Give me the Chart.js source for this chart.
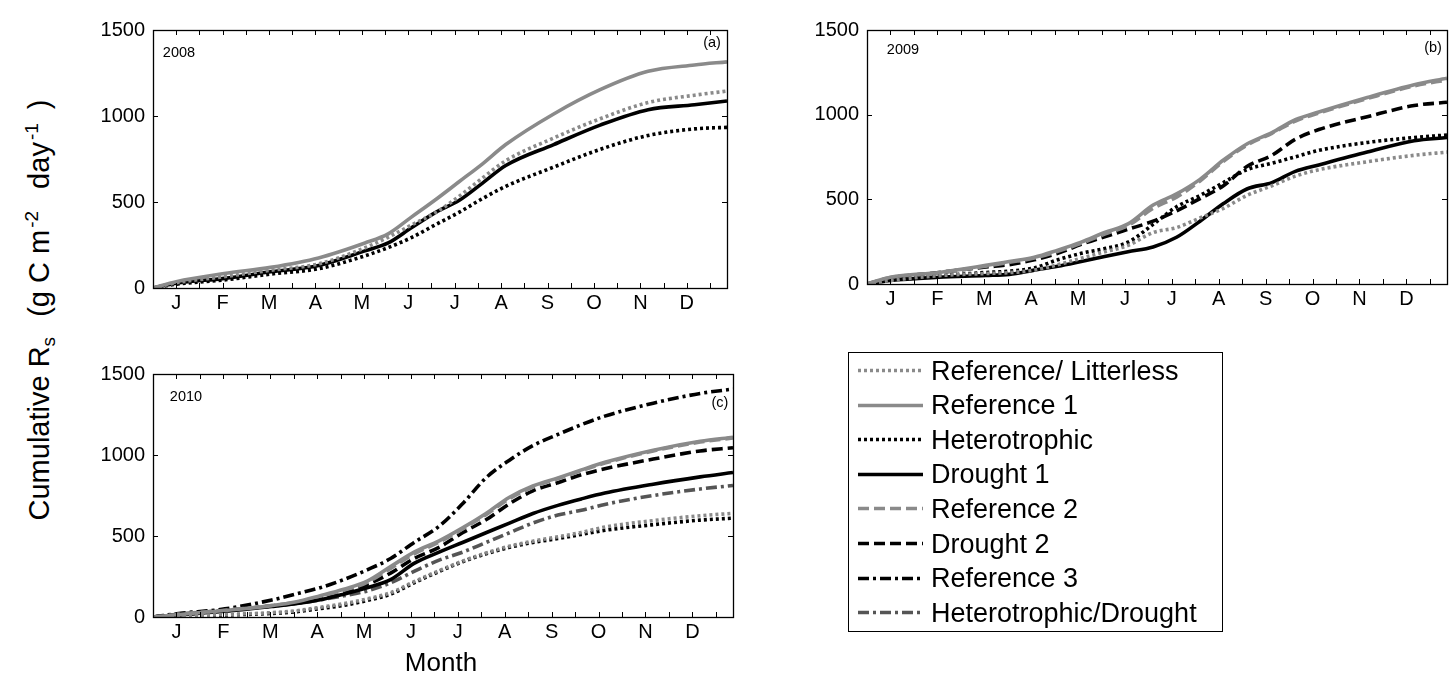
<!DOCTYPE html>
<html>
<head>
<meta charset="utf-8">
<script src="https://cdn.jsdelivr.net/npm/chart.js@4.4.1/dist/chart.umd.min.js"></script>
<style>
  html, body { margin:0; padding:0; background:#fff; }
  body { width:1453px; height:677px; position:relative; overflow:hidden; font-family:"Liberation Sans", Arial, sans-serif; }
  .panel { position:absolute; }
  .txt { position:absolute; font-family:"Liberation Sans", Arial, sans-serif; color:#000; white-space:nowrap; }
  .small { font-size:14.5px; transform:translate(-50%,-50%); }
  #ytitle { left:41px; top:310px; font-size:29px; transform:translate(-50%,-50%) rotate(-90deg); }
  #ytitle sub { font-size:19px; margin-right:12px; }
  #ytitle sup { font-size:19px; margin-left:2px; margin-right:14px; }
  #xtitle { left:441px; top:662px; font-size:26px; transform:translate(-50%,-50%); }
  #legend { position:absolute; left:848px; top:352px; width:373px; height:278px; border:1px solid #000; background:#fff; }
  .lrow { position:absolute; left:0; height:35px; width:100%; }
  .lrow svg { position:absolute; left:7px; top:0; }
  .lrow span { position:absolute; left:82px; top:50%; transform:translateY(-50%); font-size:27px; font-family:"Liberation Sans", Arial, sans-serif; }
</style>
</head>
<body>
<div class="panel" style="left:90px;top:10px;width:650px;height:310px;"><canvas id="ca" width="650" height="310"></canvas></div>
<div class="panel" style="left:804px;top:10px;width:649px;height:306px;"><canvas id="cb" width="649" height="306"></canvas></div>
<div class="panel" style="left:90px;top:354px;width:656px;height:295px;"><canvas id="cc" width="656" height="295"></canvas></div>

<div class="txt small" style="left:179px;top:52px;">2008</div>
<div class="txt small" style="left:712px;top:42px;">(a)</div>
<div class="txt small" style="left:903px;top:49px;">2009</div>
<div class="txt small" style="left:1433px;top:47px;">(b)</div>
<div class="txt small" style="left:186px;top:396px;">2010</div>
<div class="txt small" style="left:720px;top:402px;">(c)</div>

<div id="ytitle" class="txt">Cumulative R<sub>s</sub> (g C m<sup>-2</sup> day<sup>-1</sup>)</div>
<div id="xtitle" class="txt">Month</div>
<div id="legend"></div>

<script>
// ---- data ----
const monthLabels = ['J','F','M','A','M','J','J','A','S','O','N','D'];
const yTicks = [0, 500, 1000, 1500];

// 2008 (a)
const a_days          = [0, 15, 46, 76, 107, 137, 152, 167, 183, 198, 213, 228, 259, 289, 320, 350, 371];
const a_refLitterless = [0, 30, 66, 103, 140, 234, 295, 366, 440, 534, 640, 740, 872, 984, 1078, 1121, 1145];
const a_ref1          = [0, 37, 84, 120, 175, 262, 315, 412, 516, 619, 722, 834, 1012, 1153, 1260, 1297, 1315];
const a_het           = [0, 22, 47, 81, 112, 187, 235, 293, 370, 441, 520, 591, 703, 806, 887, 925, 934];
const a_drought1      = [0, 28, 56, 94, 131, 216, 262, 350, 441, 510, 610, 712, 834, 947, 1037, 1065, 1087];

// 2009 (b)
const b_days          = [0, 15, 46, 76, 91, 107, 122, 137, 152, 167, 183, 198, 213, 228, 243, 259, 274, 289, 320, 350, 371];
const b_refLitterless = [0, 21, 49, 62, 67, 82, 114, 152, 190, 228, 304, 333, 390, 447, 523, 580, 637, 675, 722, 760, 779];
const b_ref1          = [0, 40, 68, 110, 133, 158, 200, 247, 304, 355, 466, 532, 618, 732, 827, 894, 970, 1016, 1102, 1177, 1215];
const b_het           = [0, 27, 49, 68, 76, 95, 143, 181, 209, 247, 352, 456, 523, 599, 675, 713, 751, 789, 836, 865, 880];
const b_drought1      = [0, 21, 40, 50, 57, 82, 105, 133, 162, 190, 219, 276, 371, 475, 561, 599, 665, 703, 779, 846, 865];
const b_ref2          = [0, 38, 65, 105, 128, 153, 193, 240, 295, 345, 447, 513, 608, 725, 820, 890, 962, 1010, 1095, 1170, 1205];
const b_drought2      = [0, 34, 68, 100, 114, 143, 181, 234, 279, 323, 371, 432, 504, 580, 694, 760, 855, 912, 988, 1054, 1073];

// 2010 (c)
const c_days          = [0, 15, 46, 76, 91, 107, 122, 137, 152, 167, 183, 198, 213, 228, 243, 259, 274, 289, 320, 350, 371];
const c_refLitterless = [0, 5, 15, 27, 38, 60, 82, 112, 150, 218, 286, 345, 395, 437, 468, 495, 522, 555, 595, 625, 640];
const c_ref1          = [0, 14, 40, 70, 92, 131, 171, 221, 311, 400, 470, 550, 639, 739, 809, 859, 908, 955, 1030, 1085, 1110];
const c_het           = [0, 5, 12, 22, 32, 52, 72, 102, 141, 211, 281, 341, 390, 430, 460, 484, 510, 535, 570, 598, 610];
const c_drought1      = [0, 12, 35, 65, 82, 106, 141, 181, 231, 331, 400, 460, 520, 580, 639, 689, 729, 765, 820, 865, 892];
const c_ref2          = [0, 16, 42, 70, 90, 126, 165, 214, 300, 390, 462, 543, 632, 730, 802, 853, 903, 950, 1025, 1080, 1105];
const c_drought2      = [0, 15, 40, 68, 86, 118, 151, 201, 271, 361, 430, 520, 600, 699, 779, 829, 878, 915, 975, 1025, 1045];
const c_ref3          = [0, 20, 50, 105, 141, 181, 231, 291, 361, 460, 560, 699, 859, 968, 1058, 1127, 1187, 1240, 1320, 1380, 1407];
const c_hetDrought    = [0, 18, 42, 68, 82, 106, 131, 161, 211, 281, 351, 400, 460, 520, 580, 629, 659, 695, 750, 790, 812];

// ---- styles ----
const GRAY = '#8a8a8a', DARK = '#555555', BLACK = '#000000';
const styles = {
  'Reference/ Litterless': { color: GRAY,  dash: [3, 3] },
  'Reference 1':           { color: GRAY,  dash: [] },
  'Heterotrophic':         { color: BLACK, dash: [3, 3] },
  'Drought 1':             { color: BLACK, dash: [] },
  'Reference 2':           { color: GRAY,  dash: [11, 5] },
  'Drought 2':             { color: BLACK, dash: [11, 5] },
  'Reference 3':           { color: BLACK, dash: [11, 4, 3, 4] },
  'Heterotrophic/Drought': { color: DARK,  dash: [11, 4, 3, 4] }
};
const LW = 3.6;

function ds(name, days, vals) {
  const s = styles[name];
  return {
    label: name,
    data: days.map((d, i) => ({ x: d, y: vals[i] })),
    borderColor: s.color,
    borderDash: s.dash,
    borderWidth: LW,
    borderCapStyle: 'butt',
    pointRadius: 0,
    fill: false,
    cubicInterpolationMode: 'monotone'
  };
}

const frameTicks = {
  id: 'frameTicks',
  afterDatasetsDraw(chart) {
    const { ctx, chartArea: { left, right, top, bottom }, scales: { x, y } } = chart;
    ctx.save();
    ctx.strokeStyle = '#000';
    ctx.lineWidth = 1;
    ctx.setLineDash([]);
    ctx.beginPath();
    x.ticks.forEach(t => {
      const px = Math.round(x.getPixelForValue(t.value)) + 0.5;
      ctx.moveTo(px, bottom); ctx.lineTo(px, bottom - 5);
      ctx.moveTo(px, top); ctx.lineTo(px, top + 5);
    });
    y.ticks.forEach(t => {
      const py = Math.round(y.getPixelForValue(t.value)) + 0.5;
      ctx.moveTo(left, py); ctx.lineTo(left + 5, py);
      ctx.moveTo(right, py); ctx.lineTo(right - 5, py);
    });
    ctx.stroke();
    ctx.lineWidth = 1.3;
    ctx.strokeRect(Math.round(left) + 0.5, Math.round(top) + 0.5, Math.round(right - left), Math.round(bottom - top));
    ctx.restore();
  }
};

function makeChart(id, datasets, padRight) {
  return new Chart(document.getElementById(id), {
    type: 'line',
    data: { datasets },
    plugins: [frameTicks],
    options: {
      responsive: false,
      animation: false,
      devicePixelRatio: 1,
      layout: { padding: { top: 12, right: padRight, left: 0, bottom: 0 } },
      plugins: { legend: { display: false }, tooltip: { enabled: false } },
      scales: {
        x: {
          type: 'linear', min: 0, max: 371,
          grid: { display: false, drawTicks: false }, border: { display: false },
          afterFit: s => { s.height = 32; },
          ticks: {
            stepSize: 15, includeBounds: false, autoSkip: false, maxRotation: 0, padding: 3,
            color: '#000', font: { family: 'Liberation Sans', size: 20 },
            callback: v => {
              const k = (v - 15) / 30;
              return (Number.isInteger(k) && k >= 0 && k < 12) ? monthLabels[k] : '';
            }
          }
        },
        y: {
          min: 0, max: 1500,
          grid: { display: false, drawTicks: false }, border: { display: false },
          afterFit: s => { s.width = 63; },
          afterBuildTicks: s => { s.ticks = yTicks.map(v => ({ value: v })); },
          ticks: { padding: 8, color: '#000', font: { family: 'Liberation Sans', size: 20 },
                   callback: v => String(v) }
        }
      }
    }
  });
}

makeChart('ca', [
  ds('Reference/ Litterless', a_days, a_refLitterless),
  ds('Reference 1', a_days, a_ref1),
  ds('Heterotrophic', a_days, a_het),
  ds('Drought 1', a_days, a_drought1)
], 13);

makeChart('cb', [
  ds('Reference/ Litterless', b_days, b_refLitterless),
  ds('Reference 1', b_days, b_ref1),
  ds('Heterotrophic', b_days, b_het),
  ds('Drought 1', b_days, b_drought1),
  ds('Reference 2', b_days, b_ref2),
  ds('Drought 2', b_days, b_drought2)
], 6);

makeChart('cc', [
  ds('Reference/ Litterless', c_days, c_refLitterless),
  ds('Reference 1', c_days, c_ref1),
  ds('Heterotrophic', c_days, c_het),
  ds('Drought 1', c_days, c_drought1),
  ds('Reference 2', c_days, c_ref2),
  ds('Drought 2', c_days, c_drought2),
  ds('Reference 3', c_days, c_ref3),
  ds('Heterotrophic/Drought', c_days, c_hetDrought)
], 13);

// ---- legend ----
const legend = document.getElementById('legend');
Object.keys(styles).forEach((name, i) => {
  const s = styles[name];
  const row = document.createElement('div');
  row.className = 'lrow';
  row.style.top = (i * 34.6) + 'px';
  const ns = 'http://www.w3.org/2000/svg';
  const svg = document.createElementNS(ns, 'svg');
  svg.setAttribute('width', '68'); svg.setAttribute('height', '35');
  const ln = document.createElementNS(ns, 'line');
  ln.setAttribute('x1', '2'); ln.setAttribute('x2', '67');
  ln.setAttribute('y1', '17.5'); ln.setAttribute('y2', '17.5');
  ln.setAttribute('stroke', s.color); ln.setAttribute('stroke-width', LW);
  if (s.dash.length) ln.setAttribute('stroke-dasharray', s.dash.join(' '));
  svg.appendChild(ln);
  const sp = document.createElement('span');
  sp.textContent = name;
  row.appendChild(svg); row.appendChild(sp);
  legend.appendChild(row);
});
</script>
</body>
</html>
